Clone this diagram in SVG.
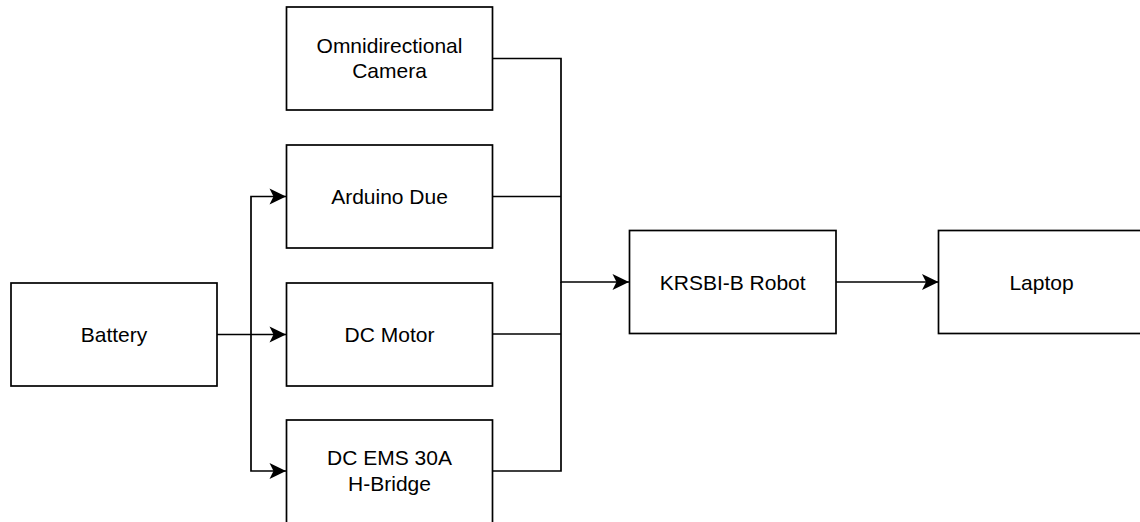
<svg xmlns="http://www.w3.org/2000/svg" width="1140" height="522" viewBox="0 0 1140 522">
<style>
.box{fill:#ffffff;stroke:#000000;stroke-width:1.7}
.lbl{font-family:"Liberation Sans",Arial,Helvetica,sans-serif;font-size:21px;fill:#000000;text-anchor:middle}
.edge{fill:none;stroke:#000000;stroke-width:1.7}
</style>
<defs>
<marker id="arr" markerUnits="userSpaceOnUse" markerWidth="20" markerHeight="20" refX="17" refY="8.5" orient="auto" viewBox="0 0 20 17">
<path d="M17,8.5 L0.5,0.5 L4.5,8.5 L0.5,16.5 Z" fill="#000000"/>
</marker>
</defs>
<rect width="1140" height="522" fill="#ffffff"/>
<g id="connectors">
<path class="edge" d="M217,334.5 H286" marker-end="url(#arr)"/>
<path class="edge" d="M251,334.5 V196.5 H286" marker-end="url(#arr)"/>
<path class="edge" d="M251,334.5 V471 H286" marker-end="url(#arr)"/>
<path class="edge" d="M492.5,58.5 H561 V282 H629" marker-end="url(#arr)"/>
<path class="edge" d="M492.5,196.5 H561"/>
<path class="edge" d="M492.5,334 H561"/>
<path class="edge" d="M492.5,471 H561 V282"/>
<path class="edge" d="M836,282 H938.5" marker-end="url(#arr)"/>
</g>
<g id="node-camera">
<rect class="box" x="286.5" y="7" width="206" height="103"/>
<text class="lbl" x="389.5" y="52.7">Omnidirectional</text>
<text class="lbl" x="389.5" y="78.3">Camera</text>
</g>
<g id="node-arduino">
<rect class="box" x="286.5" y="145" width="206" height="103"/>
<text class="lbl" x="389.5" y="204">Arduino Due</text>
</g>
<g id="node-battery">
<rect class="box" x="11" y="283" width="206" height="103"/>
<text class="lbl" x="114" y="341.5">Battery</text>
</g>
<g id="node-motor">
<rect class="box" x="286.5" y="283" width="206" height="103"/>
<text class="lbl" x="389.5" y="341.5">DC Motor</text>
</g>
<g id="node-hbridge">
<rect class="box" x="286.5" y="420" width="206" height="103"/>
<text class="lbl" x="389.5" y="465">DC EMS 30A</text>
<text class="lbl" x="389.5" y="490.6">H-Bridge</text>
</g>
<g id="node-robot">
<rect class="box" x="629.5" y="230.5" width="206.5" height="103"/>
<text class="lbl" x="732.7" y="289.5">KRSBI-B Robot</text>
</g>
<g id="node-laptop">
<rect class="box" x="938.5" y="230.5" width="206" height="103"/>
<text class="lbl" x="1041.5" y="289.5">Laptop</text>
</g>
</svg>
